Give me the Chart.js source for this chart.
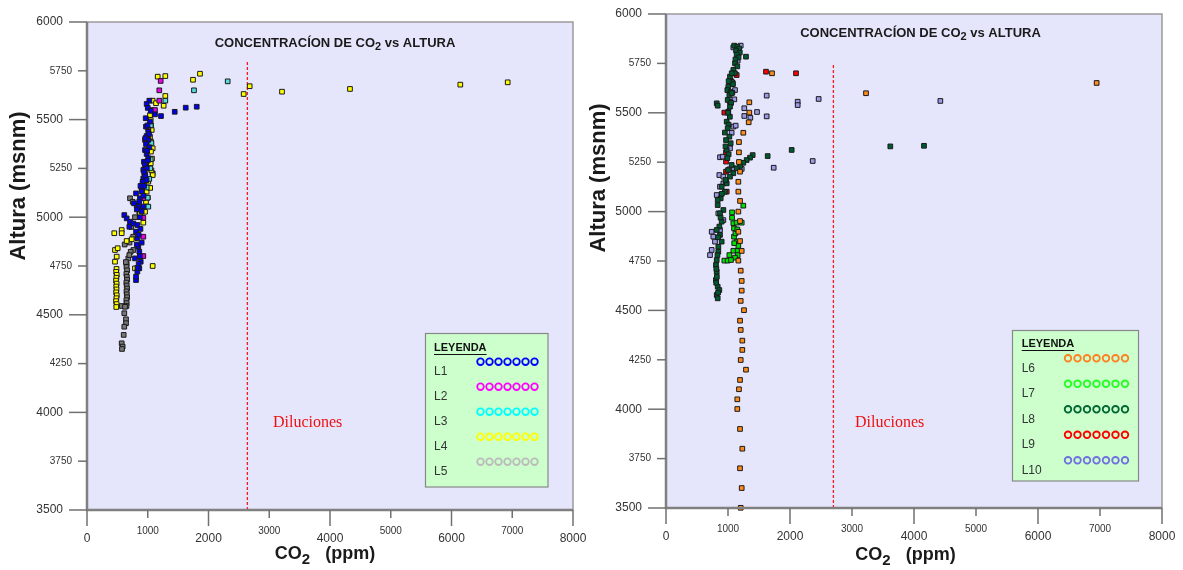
<!DOCTYPE html>
<html>
<head>
<meta charset="utf-8">
<script src="https://cdn.jsdelivr.net/npm/chart.js@4.4.0/dist/chart.umd.min.js"></script>
<style>
    body { margin: 0; background: #fff; width: 1183px; height: 570px; overflow: hidden; position: relative; }
    .panel { position: absolute; top: 0; height: 570px; }
    #leftPanel { left: 0; width: 590px; }
    #rightPanel { left: 585px; width: 598px; }
</style>
</head>
<body>
<div class="panel" id="leftPanel"><canvas id="chartLeft"></canvas></div>
<div class="panel" id="rightPanel"><canvas id="chartRight"></canvas></div>
<script>
// Concentración de CO2 vs altura - two panels

const yTicks = [3500, 3750, 4000, 4250, 4500, 4750, 5000, 5250, 5500, 5750, 6000];
const xTicks = [0, 1000, 2000, 3000, 4000, 5000, 6000, 7000, 8000];

const leftNames = ['L1', 'L2', 'L3', 'L4', 'L5'];
const rightNames = ['L6', 'L7', 'L8', 'L9', 'L10'];

// [CO2 ppm, altura msnm]
const l1 = [[1026,5597],[982,5580],[1119,5527],[966,5507],[1037,5490],[971,5464],[1009,5438],[982,5416],[1009,5396],[971,5375],
    [1026,5358],[955,5344],[982,5324],[1009,5302],[938,5284],[971,5262],[927,5242],[955,5221],[927,5199],[916,5174],[900,5148],
    [916,5182],[900,5131],[807,5122],[872,5097],[774,5071],[845,5054],[927,5054],[614,5011],[653,4994],[708,4977],[697,4951],
    [763,4968],[807,4926],[829,4892],[900,4870],[845,4849],[861,4823],[790,4789],[884,4772],[861,4738],[829,4721],[807,4678],
    [807,4695],[1806,5566],[1625,5561],[1444,5540],[1218,5518],[1000,5560],[1050,5545],[995,5470],[1020,5425],[960,5405],
    [990,5340],[1000,5290],[950,5270],[985,5250],[940,5230],[960,5210],[880,5160],[930,5110],[860,5080],[900,5030],[820,5040],
    [870,5000],[830,4960],[880,4940],[850,4910],[820,4860],[870,4800],[850,4760],[830,4740],[980,5190],[940,5160]];
const l2 = [[1213,5698],[1190,5650],[1190,5597],[1119,5549],[1009,5450],[955,5396],[943,5199],[927,5097],[927,4997],[927,4900],[927,4801]];
const l3 = [[2316,5696],[1761,5650],[1289,5597],[1053,5549],[1049,5297],[1042,5250],[1025,5196],[983,5152],[999,5100],[1009,5054],
    [1060,5380],[1050,5470]];
const l4 = [[1164,5720],[1289,5723],[1860,5735],[1745,5704],[2678,5671],[2579,5631],[3210,5643],[4329,5657],[6145,5679],[6925,5691],
    [1081,5597],[1136,5584],[1289,5621],[1262,5571],[1037,5523],[1049,5498],[1053,5472],[1065,5447],[1037,5412],[1053,5387],
    [1081,5353],[1053,5336],[1049,5276],[1081,5216],[1009,5182],[982,5131],[971,5079],[955,5028],[927,4972],[872,5020],
    [449,4918],[571,4934],[571,4918],[653,4878],[736,4887],[461,4832],[505,4841],[489,4798],[461,4772],[1081,4750],[790,4738],
    [486,4735],[480,4720],[490,4705],[484,4690],[478,4675],[488,4660],[482,4645],[486,4630],[480,4615],[490,4600],[484,4585],
    [478,4570],[488,4555],[482,4540],[1070,5300],[1060,5240],[1040,5150],[1000,5100]];
const l5 = [[708,5097],[752,5079],[818,5062],[861,5028],[763,4832],[719,4823],[680,4789],[697,4806],
    [653,4760],[650,4745],[660,4728],[648,4710],[655,4695],[660,4680],[648,4665],[653,4650],[660,4635],[650,4620],[655,4605],
    [660,4590],[648,4575],[653,4560],[650,4545],[571,4545],[626,4541],[614,4508],[642,4477],[642,4457],[614,4439],[604,4397],
    [571,4354],[587,4337],[576,4325],[1081,5225],[700,4870],[760,4900],[730,4950],[790,5000],[640,4770],[620,4860]];

const l6 = [[1710,5700],[3226,5599],[6946,5651],[1344,5553],[1344,5501],[1334,5452],[1247,5399],[1177,5352],[1177,5300],[1177,5251],
    [1194,5202],[1167,5151],[1167,5101],[1194,5054],[1167,5000],[1194,4952],[1167,4898],[1194,4851],[1221,4801],[1167,4752],
    [1205,4701],[1221,4649],[1221,4600],[1205,4548],[1258,4501],[1194,4448],[1205,4401],[1231,4347],[1231,4300],[1205,4249],
    [1290,4200],[1194,4148],[1177,4101],[1150,4050],[1150,4001],[1194,3900],[1231,3800],[1194,3701],[1221,3601],[1205,3501]];
const l7 = [[1247,5030],[1065,4996],[1065,4969],[1086,4941],[1140,4944],[1221,4944],[1097,4915],[1097,4873],[1140,4848],[1167,4826],
    [1086,4802],[1156,4801],[1156,4780],[1022,4780],[1113,4767],[941,4752],[995,4752],[1048,4755],[1120,4890],[1150,4910],[1100,4840]];
const l8 = [[1290,5784],[1100,5840],[1150,5835],[1180,5825],[1130,5815],[1190,5805],[1140,5795],[1170,5780],[1120,5770],[1113,5750],
    [1150,5735],[1086,5717],[1110,5700],[1032,5683],[1059,5657],[1080,5645],[1005,5632],[989,5615],[1040,5605],[1022,5590],
    [995,5565],[1050,5550],[1032,5531],[1005,5506],[1030,5480],[979,5455],[1010,5440],[995,5422],[1022,5379],[968,5362],
    [1043,5346],[979,5312],[1010,5290],[989,5270],[1059,5236],[1086,5194],[1032,5177],[979,5143],[818,5548],[834,5536],
    [1398,5286],[1355,5273],[1301,5261],[1247,5247],[1194,5231],[1140,5219],[2027,5312],[1640,5281],[3618,5330],[4161,5333],
    [898,5126],[882,5067],[834,5059],[834,5033],[925,5008],[871,4991],[898,4949],[860,4924],[818,4907],[871,4882],[898,4848],
    [844,4822],[844,4797],[818,4755],[806,4730],[818,4696],[806,4654],[834,4620],[860,4603],[818,4578],[834,4561],
    [950,5100],[900,5090],[880,4970],[840,4870],[830,4780],[812,4710],[820,4670],[810,4640],[840,4590],[960,5160],[1000,5210],
    [960,5330],[1060,5700],[1010,5660],[1060,5600],[1000,5500],[950,5400]];
const l9 = [[1613,5708],[2097,5700],[1140,5691],[1075,5652],[1070,5602],[1032,5556],[941,5501],[968,5300],[968,5253],[968,5202],
    [968,5151],[979,5101]];
const l10 = [[1086,5831],[1205,5840],[1156,5764],[1113,5615],[1102,5568],[1624,5587],[2124,5556],[2124,5539],[2462,5570],[4425,5560],
    [1263,5523],[1263,5484],[1468,5504],[1360,5475],[1624,5482],[1086,5430],[1124,5435],[1059,5399],[1032,5320],[871,5275],
    [914,5278],[2366,5256],[1737,5222],[1221,5216],[1086,5219],[1022,5214],[860,5185],[925,5177],[925,5143],[871,5126],
    [818,5084],[844,4991],[925,4957],[871,4907],[737,4898],[763,4873],[790,4848],[737,4806],[710,4780],[1100,5700],[1050,5660]];

// dashed "Diluciones" limit: [CO2, altura bottom, altura top]
const dilucionLeft = [2640, 3500, 5800];
const dilucionRight = [2700, 3500, 5750];

const leftFills = ['#0000ee', '#ee00ee', '#55dddd', '#ffff00', '#777777'];
const leftRings = ['#0000ff', '#ff00ff', '#00ffff', '#ffff00', '#bbbbbb'];
const rightFills = ['#ff8c1a', '#00e000', '#005a30', '#ff0000', '#9a9ae8'];
const rightRings = ['#ff8020', '#22ff22', '#006633', '#ff0000', '#7070e0'];

Chart.defaults.font.family = '"Liberation Sans", Arial, sans-serif';

const toXY = arr => arr.map(([x, y]) => ({ x, y }));

function pointSet(label, pts, fill) {
    return {
        label,
        data: toXY(pts),
        pointStyle: 'rect',
        pointRadius: 3.3,
        pointBorderWidth: 1,
        pointBorderColor: '#1a1a1a',
        pointBackgroundColor: fill,
        showLine: false,
        clip: false
    };
}

function dilucionSet(d) {
    return {
        label: 'dil',
        data: [{ x: d[0], y: d[1] }, { x: d[0], y: d[2] }],
        showLine: true,
        borderColor: '#ff1a1a',
        borderWidth: 1.3,
        borderDash: [3, 2],
        pointRadius: 0,
        clip: false
    };
}

function drawRich(ctx, segs, x, y) {
    let total = 0;
    segs.forEach(s => { ctx.font = s.font; s.w = ctx.measureText(s.t).width; total += s.w; });
    let cx = x - total / 2;
    ctx.textAlign = 'left';
    ctx.textBaseline = 'alphabetic';
    segs.forEach(s => { ctx.font = s.font; ctx.fillText(s.t, cx, y + (s.dy || 0)); cx += s.w; });
}

function line(ctx, x1, y1, x2, y2) {
    ctx.beginPath();
    ctx.moveTo(x1, y1);
    ctx.lineTo(x2, y2);
    ctx.stroke();
}

function panelPlugin(p) {
    return {
        id: 'panelDeco',
        beforeDraw(chart) {
            const { ctx, chartArea: a } = chart;
            ctx.save();
            ctx.fillStyle = '#e5e5fb';
            ctx.fillRect(a.left, a.top, a.right - a.left, a.bottom - a.top);
            ctx.restore();
        },
        afterDraw(chart) {
            const { ctx, chartArea: a } = chart;
            const xs = chart.scales.x, ys = chart.scales.y;
            ctx.save();

            // frame
            ctx.strokeStyle = '#9a9a9a';
            ctx.lineWidth = 1.5;
            ctx.strokeRect(a.left, a.top, a.right - a.left, a.bottom - a.top);
            ctx.strokeStyle = '#808080';
            ctx.lineWidth = 2.5;
            line(ctx, a.left, a.top, a.left, a.bottom + 1);
            line(ctx, a.left - 1, a.bottom, a.right, a.bottom);

            // y ticks
            ctx.fillStyle = '#333';
            ctx.strokeStyle = '#707070';
            ctx.lineWidth = 1.5;
            yTicks.forEach(v => {
                const major = v % 500 === 0;
                const py = ys.getPixelForValue(v);
                const len = major ? 18 : 9;
                line(ctx, a.left - len, py, a.left, py);
                ctx.font = (major ? 12 : 10) + 'px "Liberation Sans", Arial';
                ctx.textAlign = 'right';
                ctx.textBaseline = 'middle';
                ctx.fillText(String(v), a.left - len - 6, py);
            });

            // x ticks
            xTicks.forEach(v => {
                const major = v % 2000 === 0;
                const px = xs.getPixelForValue(v);
                const len = major ? 16 : 8;
                line(ctx, px, a.bottom, px, a.bottom + len);
                ctx.font = (major ? 12 : 10) + 'px "Liberation Sans", Arial';
                ctx.textAlign = 'center';
                ctx.textBaseline = 'top';
                ctx.fillText(String(v), px, a.bottom + len + (major ? 7 : 8));
            });

            // titles
            ctx.fillStyle = '#1a1a1a';
            drawRich(ctx, [
                { t: 'CONCENTRACÍON DE CO', font: 'bold 13px "Liberation Sans", Arial' },
                { t: '2', font: 'bold 11px "Liberation Sans", Arial', dy: 3 },
                { t: ' vs ALTURA', font: 'bold 13px "Liberation Sans", Arial' }
            ], p.title[0], p.title[1]);

            drawRich(ctx, [
                { t: 'CO', font: 'bold 18px "Liberation Sans", Arial' },
                { t: '2', font: 'bold 15px "Liberation Sans", Arial', dy: 5 },
                { t: '   (ppm)', font: 'bold 18px "Liberation Sans", Arial' }
            ], p.xTitle[0], p.xTitle[1]);

            ctx.save();
            ctx.translate(p.yTitle[0], p.yTitle[1]);
            ctx.rotate(-Math.PI / 2);
            ctx.font = 'bold 22px "Liberation Sans", Arial';
            ctx.textAlign = 'center';
            ctx.textBaseline = 'middle';
            ctx.fillText('Altura (msnm)', 0, 0);
            ctx.restore();

            // Diluciones
            ctx.fillStyle = '#ee1111';
            ctx.font = '16px "Liberation Serif", "Times New Roman", serif';
            ctx.textAlign = 'left';
            ctx.textBaseline = 'middle';
            ctx.fillText('Diluciones', p.dil[0], p.dil[1]);

            // legend box
            const L = p.legend;
            ctx.fillStyle = '#ccffcc';
            ctx.fillRect(L.x, L.y, L.w, L.h);
            ctx.strokeStyle = '#888';
            ctx.lineWidth = 1.2;
            ctx.strokeRect(L.x, L.y, L.w, L.h);

            ctx.fillStyle = '#111';
            ctx.font = 'bold 11px "Liberation Sans", Arial';
            ctx.textAlign = 'left';
            ctx.textBaseline = 'middle';
            ctx.fillText('LEYENDA', L.textX, L.headY);
            const hw = ctx.measureText('LEYENDA').width;
            ctx.strokeStyle = '#111';
            ctx.lineWidth = 1;
            line(ctx, L.textX, L.headY + 6.5, L.textX + hw, L.headY + 6.5);

            p.names.forEach((name, i) => {
                ctx.fillStyle = '#333';
                ctx.font = '12px "Liberation Sans", Arial';
                ctx.fillText(name, L.textX, L.rowY + i * L.gap);
                ctx.strokeStyle = p.rings[i];
                ctx.lineWidth = 1.8;
                for (let k = 0; k < 7; k++) {
                    ctx.beginPath();
                    ctx.arc(L.circX + k * L.step, L.circY + i * L.gap, 3.3, 0, Math.PI * 2);
                    ctx.stroke();
                }
            });

            ctx.restore();
        }
    };
}

function buildChart(canvasId, datasets, pad, yWidth, xHeight, deco) {
    return new Chart(document.getElementById(canvasId), {
        type: 'scatter',
        data: { datasets },
        options: {
            responsive: true,
            maintainAspectRatio: false,
            animation: false,
            events: [],
            layout: { padding: pad, autoPadding: false },
            plugins: { legend: { display: false }, tooltip: { enabled: false } },
            scales: {
                x: {
                    type: 'linear', min: 0, max: 8000,
                    grid: { display: false }, border: { display: false },
                    ticks: { display: false, stepSize: 1000 },
                    afterFit: s => { s.height = xHeight; }
                },
                y: {
                    type: 'linear', min: 3500, max: 6000,
                    grid: { display: false }, border: { display: false },
                    ticks: { display: false, stepSize: 250 },
                    afterFit: s => { s.width = yWidth; }
                }
            }
        },
        plugins: [panelPlugin(deco)]
    });
}

const leftSeries = [l1, l2, l3, l4, l5];
const rightSeries = [l6, l7, l8, l9, l10];

buildChart('chartLeft',
    [...leftSeries.map((s, i) => pointSet(leftNames[i], s, leftFills[i])), dilucionSet(dilucionLeft)],
    { left: 0, top: 22, right: 17, bottom: 0 }, 87, 60,
    {
        names: leftNames, rings: leftRings,
        title: [335, 47], xTitle: [325, 559], yTitle: [19, 186], dil: [273, 423],
        legend: { x: 425.5, y: 333.5, w: 122.5, h: 153.5, textX: 434, headY: 348, rowY: 371.5, circY: 361.7, circX: 480.5, step: 9, gap: 25 }
    });

buildChart('chartRight',
    [...rightSeries.map((s, i) => pointSet(rightNames[i], s, rightFills[i])), dilucionSet(dilucionRight)],
    { left: 0, top: 14, right: 21, bottom: 0 }, 81, 62,
    {
        names: rightNames, rings: rightRings,
        title: [335.5, 37], xTitle: [320.5, 560], yTitle: [14, 178], dil: [270, 423],
        legend: { x: 427.5, y: 330.5, w: 126, h: 150.5, textX: 436.7, headY: 344, rowY: 368.3, circY: 358.3, circX: 483, step: 9.5, gap: 25.5 }
    });
</script>
</body>
</html>
